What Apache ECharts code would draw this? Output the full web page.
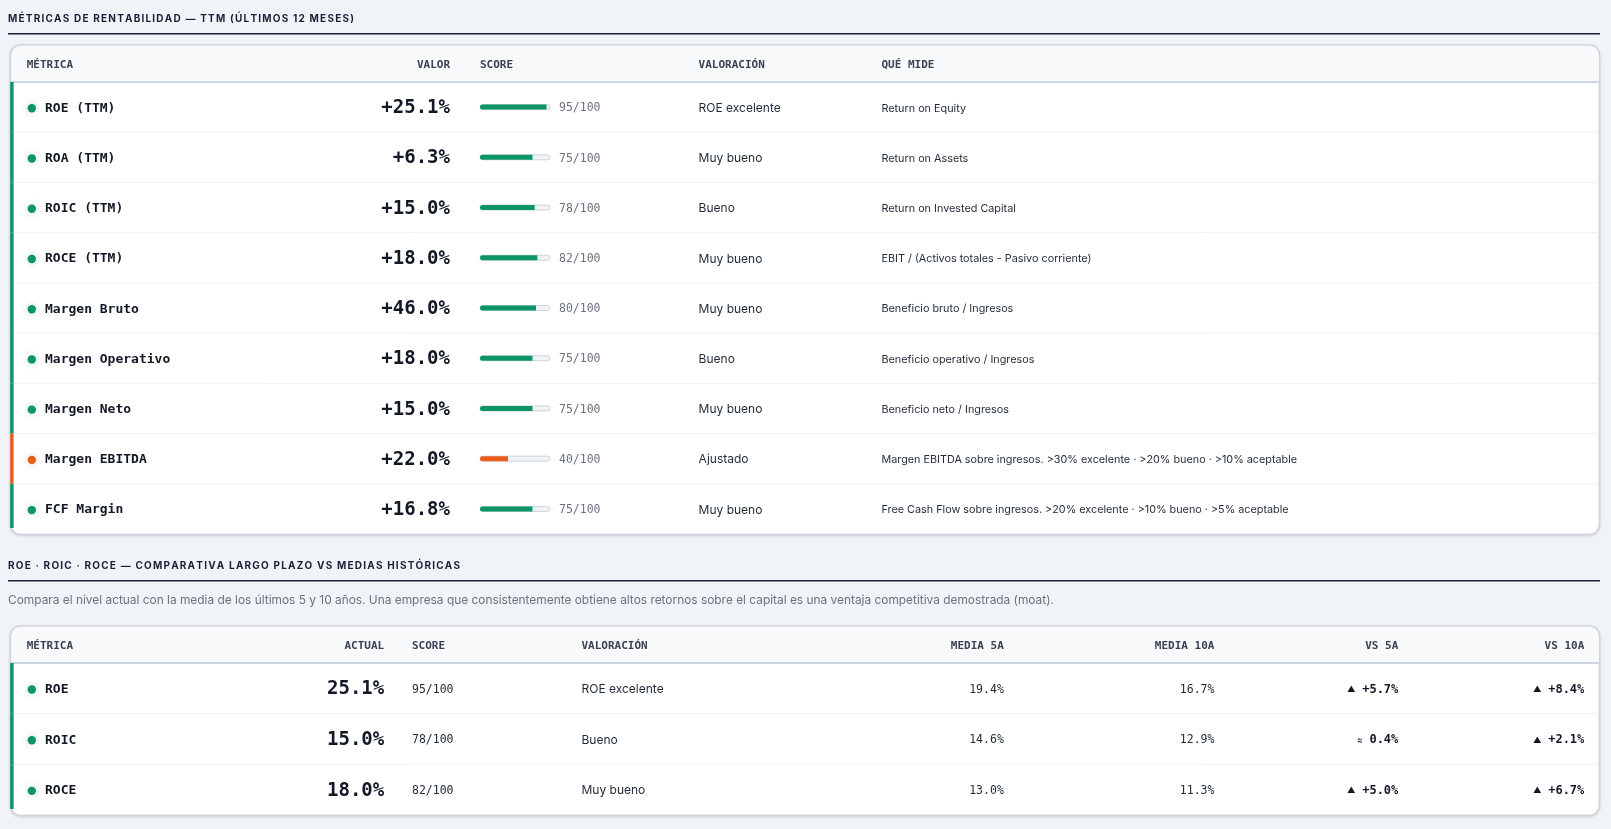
<!DOCTYPE html>
<html>
<head>
<meta charset="utf-8">
<script src="https://cdn.jsdelivr.net/npm/echarts@6/dist/echarts.min.js"></script>
<style>
html,body{margin:0;padding:0;background:#f0f3f8;}
#chart{width:1611px;height:829px;}
</style>
</head>
<body>
<div id="chart"></div>
<script>
// ---------- Table 1 data ----------
const metrics1 = ['ROE (TTM)','ROA (TTM)','ROIC (TTM)','ROCE (TTM)','Margen Bruto','Margen Operativo','Margen Neto','Margen EBITDA','FCF Margin'];
const values1 = [25.1, 6.3, 15.0, 18.0, 46.0, 18.0, 15.0, 22.0, 16.8];
const scores1 = [95, 75, 78, 82, 80, 75, 75, 40, 75];
const ratings1 = ['ROE excelente','Muy bueno','Bueno','Muy bueno','Muy bueno','Bueno','Muy bueno','Ajustado','Muy bueno'];
const status1 = ['good','good','good','good','good','good','good','warn','good'];
const descs1 = ['Return on Equity','Return on Assets','Return on Invested Capital','EBIT / (Activos totales - Pasivo corriente)','Beneficio bruto / Ingresos','Beneficio operativo / Ingresos','Beneficio neto / Ingresos','Margen EBITDA sobre ingresos. >30% excelente · >20% bueno · >10% aceptable','Free Cash Flow sobre ingresos. >20% excelente · >10% bueno · >5% aceptable'];
const headers1 = ['MÉTRICA','VALOR','SCORE','VALORACIÓN','QUÉ MIDE'];

// ---------- Table 2 data ----------
const metrics2 = ['ROE','ROIC','ROCE'];
const actual2 = [25.1, 15.0, 18.0];
const scores2 = [95, 78, 82];
const ratings2 = ['ROE excelente','Bueno','Muy bueno'];
const status2 = ['good','good','good'];
const media5 = [19.4, 14.6, 13.0];
const media10 = [16.7, 12.9, 11.3];
const vs5 = [5.7, 0.4, 5.0];
const vs5Mark = ['▲','≈','▲'];
const vs10 = [8.4, 2.1, 6.7];
const vs10Mark = ['▲','▲','▲'];
const headers2 = ['MÉTRICA','ACTUAL','SCORE','VALORACIÓN','MEDIA 5A','MEDIA 10A','VS 5A','VS 10A'];

const title1 = 'MÉTRICAS DE RENTABILIDAD — TTM (ÚLTIMOS 12 MESES)';
const title2 = 'ROE · ROIC · ROCE — COMPARATIVA LARGO PLAZO VS MEDIAS HISTÓRICAS';
const note2 = 'Compara el nivel actual con la media de los últimos 5 y 10 años. Una empresa que consistentemente obtiene altos retornos sobre el capital es una ventaja competitiva demostrada (moat).';

// ---------- styles ----------
const MONO = "'DejaVu Sans Mono', monospace";
const SANS = "Inter, 'Noto Sans', sans-serif";
const COLORS = {good:'#0d9467', warn:'#e85d1a'};
const GLOW = {good:'rgba(13,148,103,0.30)', warn:'rgba(232,93,26,0.30)'};
const INK = '#121826';
const HEAD = '#3b4252';
const SEP = '#eef1f5';
const DY = 1.2; // optical offset for middle-aligned text

const P1 = {x:10.5, y:45, w:1589, h:489.5, head:37};
const P2 = {x:10.5, y:626, w:1589, h:189.5, head:37};

const cols1 = {dot:31.8, name:45, value:450, score:480, scoreTxt:559, rating:698.6, desc:881.5};
const cols2 = {dot:31.8, name:45, value:384.2, score:412, rating:581.5, m5:1003.8, m10:1214.4, v5:1398.3, v10:1584.3};

function pct(v, sign){ return (sign && v > 0 ? '+' : '') + v.toFixed(1) + '%'; }

// letter-spaced title (canvas text has no letter-spacing, so place glyphs one by one)
const measureCtx = document.createElement('canvas').getContext('2d');
function spacedText(text, x, y, font, fill, spacing){
  measureCtx.font = font;
  const kids = [];
  let cx = x;
  for (const ch of text){
    kids.push({type:'text', style:{text:ch, x:cx, y:y, font:font, fill:fill, verticalAlign:'middle'}});
    cx += measureCtx.measureText(ch).width + spacing;
  }
  return {type:'group', children:kids};
}

function panel(p){
  return [
    {type:'rect', z:-5, shape:{x:p.x, y:p.y, width:p.w, height:p.h, r:10},
     style:{fill:'#ffffff', stroke:'#cfd4db', lineWidth:1.5, shadowBlur:3, shadowOffsetY:1, shadowColor:'rgba(0,0,0,0.10)'}},
    {type:'rect', z:-4, shape:{x:p.x+0.8, y:p.y+0.8, width:p.w-1.6, height:p.head-0.8, r:[9,9,0,0]},
     style:{fill:'#f7f9fb'}},
    {type:'rect', z:-3, shape:{x:p.x+0.8, y:p.y+p.head-1, width:p.w-1.6, height:2},
     style:{fill:'#cdd5df'}}
  ];
}
function hdr(text, x, y, align){
  return {type:'text', z:1, style:{text:text, x:x, y:y+DY, align:align||'left', verticalAlign:'middle',
    font:'bold 11px ' + MONO, fill:HEAD}};
}

const graphics = [].concat(
  [spacedText(title1, 8, 19, 'bold 10px ' + SANS, '#1a1f36', 1.2),
   {type:'rect', shape:{x:8, y:33, width:1592, height:1.5}, style:{fill:'#1a1f36'}},
   spacedText(title2, 8, 565.5, 'bold 10px ' + SANS, '#1a1f36', 1.2),
   {type:'rect', shape:{x:8, y:580, width:1592, height:1.5}, style:{fill:'#1a1f36'}},
   {type:'text', style:{text:note2, x:8, y:600, verticalAlign:'middle', font:'11.9px ' + SANS, fill:'#6b7280'}}],
  panel(P1), panel(P2),
  [hdr(headers1[0], 26.7, 63.5), hdr(headers1[1], cols1.value, 63.5, 'right'), hdr(headers1[2], cols1.score, 63.5),
   hdr(headers1[3], cols1.rating, 63.5), hdr(headers1[4], cols1.desc, 63.5)],
  [hdr(headers2[0], 26.7, 644.5), hdr(headers2[1], cols2.value, 644.5, 'right'), hdr(headers2[2], cols2.score, 644.5),
   hdr(headers2[3], cols2.rating, 644.5), hdr(headers2[4], cols2.m5, 644.5, 'right'), hdr(headers2[5], cols2.m10, 644.5, 'right'),
   hdr(headers2[6], cols2.v5, 644.5, 'right'), hdr(headers2[7], cols2.v10, 644.5, 'right')]
);

function txt(text, x, y, font, fill, align){
  return {type:'text', style:{text:text, x:x, y:y+DY, font:font, fill:fill, align:align||'left', verticalAlign:'middle'}};
}
function rowBase(api, i, n, st, p){
  const c = api.coord([0, i]);
  const h = api.size([0, 1])[1];
  const y = c[1], top = y - h/2;
  const els = [];
  if (i < n - 1) els.push({type:'line', shape:{x1:p.x+1, y1:top+h, x2:p.x+p.w-1, y2:top+h}, style:{stroke:SEP, lineWidth:1}});
  const last = i === n - 1;
  els.push({type:'rect', shape:{x:p.x-0.3, y:top, width:3.4, height:last ? h-6 : h}, style:{fill:COLORS[st]}});
  els.push({type:'circle', shape:{cx:31.8, cy:y+DY, r:4.2}, style:{fill:COLORS[st], shadowBlur:7, shadowColor:GLOW[st]}});
  return {els:els, y:y};
}

const option = {
  animation:false,
  backgroundColor:'#f0f3f8',
  graphic:{elements:graphics},
  grid:[
    {left:cols1.score, top:P1.y+P1.head, width:70, height:P1.h-P1.head-0.5},
    {left:cols2.score, top:P2.y+P2.head, width:70, height:P2.h-P2.head-0.5}
  ],
  xAxis:[
    {type:'value', gridIndex:0, min:0, max:100, show:false},
    {type:'value', gridIndex:1, min:0, max:100, show:false}
  ],
  yAxis:[
    {type:'category', gridIndex:0, data:metrics1, inverse:true, show:false},
    {type:'category', gridIndex:1, data:metrics2, inverse:true, show:false}
  ],
  series:[
    {type:'bar', xAxisIndex:0, yAxisIndex:0, barWidth:5, z:3,
     showBackground:true,
     backgroundStyle:{color:'#f1f4f7', borderColor:'#cbd3dd', borderWidth:1, borderRadius:3},
     itemStyle:{borderRadius:[2.5,0,0,2.5]},
     data:scores1.map((s,i)=>({value:s, itemStyle:{color:COLORS[status1[i]]}}))},
    {type:'custom', xAxisIndex:0, yAxisIndex:0, z:4, clip:false,
     data:metrics1.map((m,i)=>[0,i]),
     renderItem:function(params, api){
       const i = params.dataIndex;
       const b = rowBase(api, i, metrics1.length, status1[i], P1);
       const y = b.y;
       b.els.push(txt(metrics1[i], cols1.name, y, 'bold 13px ' + MONO, INK));
       b.els.push(txt(pct(values1[i], true), cols1.value, y, 'bold 19px ' + MONO, INK, 'right'));
       b.els.push(txt(scores1[i] + '/100', cols1.scoreTxt, y, '11.5px ' + MONO, '#6b7280'));
       b.els.push(txt(ratings1[i], cols1.rating, y, '12px ' + SANS, '#1f2937'));
       b.els.push(txt(descs1[i], cols1.desc, y, '10.8px ' + SANS, '#1f2937'));
       return {type:'group', children:b.els};
     }},
    {type:'custom', xAxisIndex:1, yAxisIndex:1, z:4, clip:false,
     data:metrics2.map((m,i)=>[0,i]),
     renderItem:function(params, api){
       const i = params.dataIndex;
       const b = rowBase(api, i, metrics2.length, status2[i], P2);
       const y = b.y;
       b.els.push(txt(metrics2[i], cols2.name, y, 'bold 13px ' + MONO, INK));
       b.els.push(txt(pct(actual2[i], false), cols2.value, y, 'bold 19px ' + MONO, INK, 'right'));
       b.els.push(txt(scores2[i] + '/100', cols2.score, y, '11.5px ' + MONO, '#1f2937'));
       b.els.push(txt(ratings2[i], cols2.rating, y, '12px ' + SANS, '#1f2937'));
       b.els.push(txt(pct(media5[i], false), cols2.m5, y, '11.5px ' + MONO, '#1f2937', 'right'));
       b.els.push(txt(pct(media10[i], false), cols2.m10, y, '11.5px ' + MONO, '#1f2937', 'right'));
       [[vs5, vs5Mark, cols2.v5],[vs10, vs10Mark, cols2.v10]].forEach(function(d){
         const v = d[0][i], mk = d[1][i];
         const s = (mk === '▲' ? '+' : '') + v.toFixed(1) + '%';
         b.els.push({type:'text', style:{text:'{m|' + mk + '}  {v|' + s + '}', x:d[2], y:y+DY, align:'right', verticalAlign:'middle',
           rich:{m:{font:'8.5px ' + SANS, fill:INK}, v:{font:'bold 12px ' + MONO, fill:INK}}}});
       });
       return {type:'group', children:b.els};
     }}
  ]
};

const chart = echarts.init(document.getElementById('chart'), null, {renderer:'canvas'});
chart.setOption(option);
</script>
</body>
</html>
